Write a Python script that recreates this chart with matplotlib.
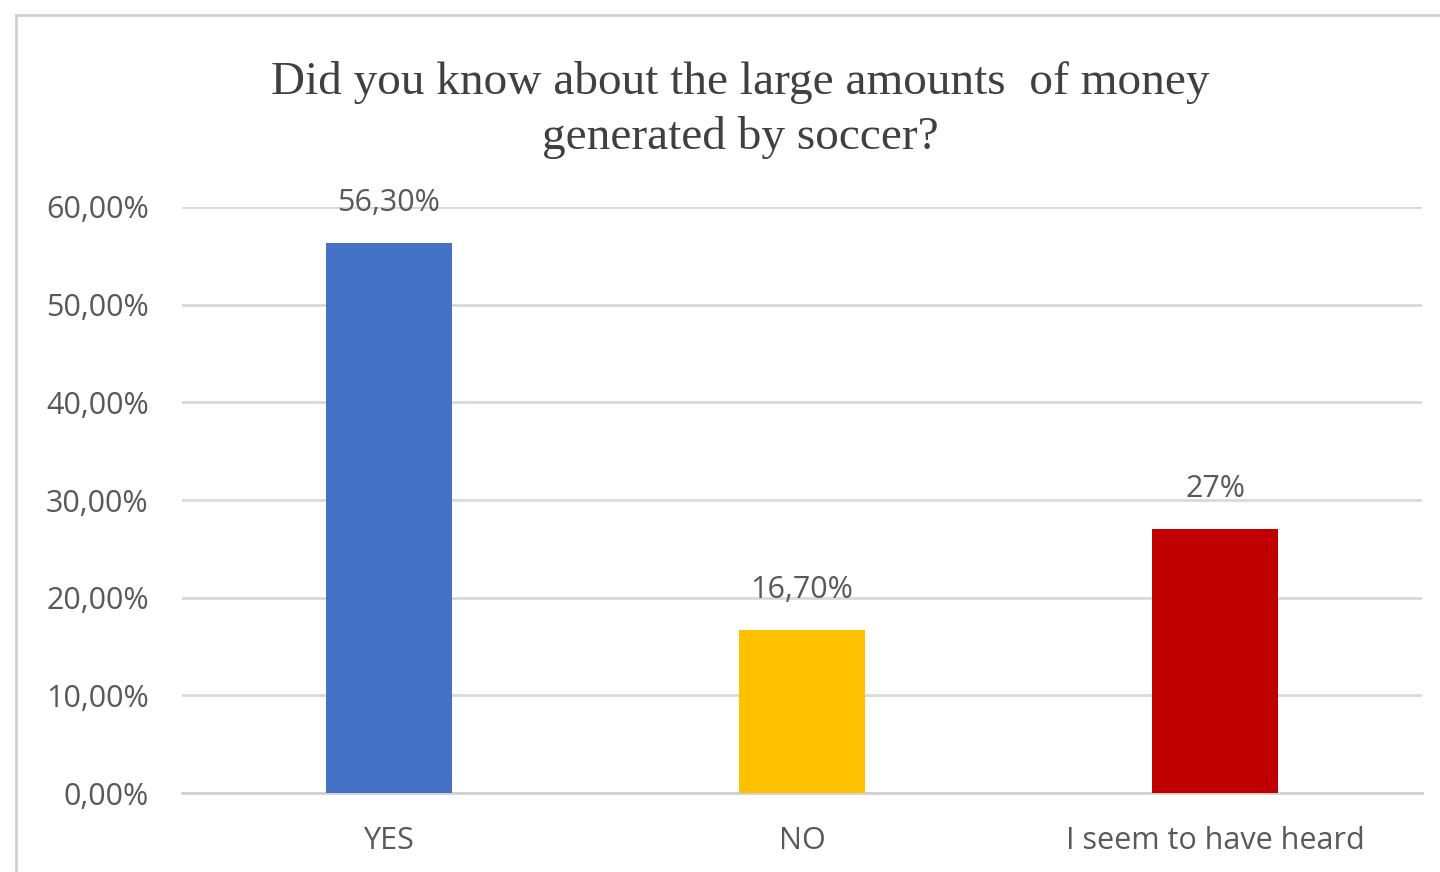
import matplotlib.pyplot as plt
from matplotlib.patches import Rectangle

categories = ["YES", "NO", "I seem to have heard"]
values = [56.3, 16.7, 27.0]
value_labels = ["56,30%", "16,70%", "27%"]
colors = ["#4472C4", "#FFC000", "#C00000"]
yticks = [0, 10, 20, 30, 40, 50, 60]
ytick_labels = ["0,00%", "10,00%", "20,00%", "30,00%", "40,00%", "50,00%", "60,00%"]

title = "Did you know about the large amounts  of money\ngenerated by soccer?"

fig = plt.figure(figsize=(14.4, 8.72), dpi=100)
fig.patch.set_facecolor("white")

# outer chart frame (runs off the right and bottom edge)
frame = Rectangle((16 / 1440, -0.05), 1.1, 1 - 15 / 872 + 0.05,
                  transform=fig.transFigure, fill=False,
                  edgecolor="#d0d0d0", linewidth=2)
fig.patches.append(frame)

ax = fig.add_axes([182 / 1440, 1 - 793 / 872, 1240 / 1440, (793 - 207) / 872])

x = range(len(categories))
ax.bar(x, values, width=0.305, color=colors, zorder=3)

for xi, v, lab in zip(x, values, value_labels):
    ax.annotate(lab, (xi, v), xytext=(0, 40), textcoords="offset pixels",
                ha="center", va="center", fontsize=22, color="#595959",
                family="Open Sans", zorder=4)

ax.set_xlim(-0.5, 2.5)
ax.set_ylim(0, 60)
ax.set_yticks(yticks)
ax.set_yticklabels(ytick_labels, family="Open Sans", fontsize=22, color="#595959")
ax.set_xticks(list(x))
ax.set_xticklabels(categories, family="Open Sans", fontsize=22, color="#595959")
ax.tick_params(axis="both", length=0)
ax.tick_params(axis="y", pad=24)
ax.tick_params(axis="x", pad=24)

ax.grid(axis="y", color="#d9d9d9", linewidth=2, zorder=0)
for s in ["top", "right", "left"]:
    ax.spines[s].set_visible(False)
ax.spines["bottom"].set_color("#d0d0d0")
ax.spines["bottom"].set_linewidth(2)

fig.text(740 / 1440, 1 - 110 / 872, title, ha="center", va="center",
         family="Liberation Serif", fontsize=34, color="#404040",
         linespacing=1.35)

fig.savefig("out.png", dpi=100, facecolor="white")
